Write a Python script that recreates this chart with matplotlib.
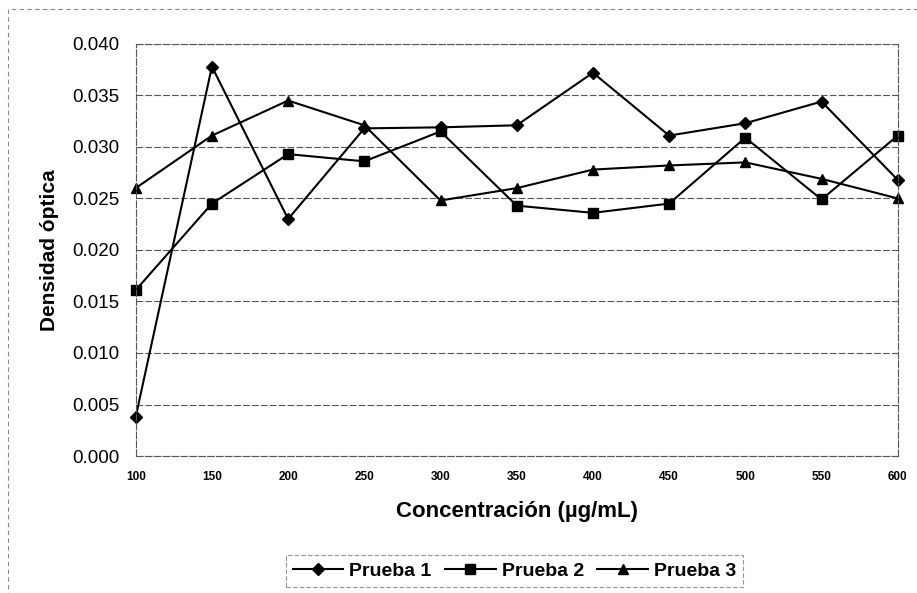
import matplotlib
matplotlib.use('Agg')
import matplotlib.pyplot as plt
from matplotlib.patches import Rectangle

plt.rcParams['font.family'] = ['Liberation Sans', 'DejaVu Sans']

concentracion = [100, 150, 200, 250, 300, 350, 400, 450, 500, 550, 600]
prueba1 = [0.0038, 0.0378, 0.0230, 0.0318, 0.0319, 0.0321, 0.0372, 0.0311, 0.0323, 0.0344, 0.0268]
prueba2 = [0.0161, 0.0245, 0.0293, 0.0286, 0.0315, 0.0243, 0.0236, 0.0245, 0.0309, 0.0249, 0.0311]
prueba3 = [0.0260, 0.0311, 0.0345, 0.0321, 0.0248, 0.0260, 0.0278, 0.0282, 0.0285, 0.0269, 0.0250]
yticks = [0.000, 0.005, 0.010, 0.015, 0.020, 0.025, 0.030, 0.035, 0.040]

fig = plt.figure(figsize=(9.17, 5.93), dpi=100)
ax = fig.add_axes([0.148, 0.231, 0.831, 0.695])

ax.plot(concentracion, prueba1, color='black', lw=1.5, marker='D', ms=6.5, label='Prueba 1')
ax.plot(concentracion, prueba2, color='black', lw=1.5, marker='s', ms=6.5, label='Prueba 2')
ax.plot(concentracion, prueba3, color='black', lw=1.5, marker='^', ms=7.5, label='Prueba 3')

ax.set_xlim(100, 600)
ax.set_ylim(0, 0.040)
ax.set_xticks(concentracion)
ax.set_xticklabels([str(c) for c in concentracion], fontsize=8.5, fontweight='bold')
ax.set_yticks(yticks)
ax.set_yticklabels(['%.3f' % v for v in yticks], fontsize=13.5)
ax.tick_params(length=0, pad=12)
ax.tick_params(axis='x', pad=11)

ax.grid(axis='y', color='#555555', ls=(0, (6, 2)), lw=0.8)
for s in ax.spines.values():
    s.set_color('#555555')
    s.set_linestyle((0, (6, 2)))
    s.set_linewidth(0.8)
for ln in ax.lines:
    ln.set_clip_on(False)

ax.set_ylabel('Densidad óptica', fontsize=15, fontweight='bold', labelpad=9)
ax.set_xlabel('Concentración (µg/mL)', fontsize=16, fontweight='bold', labelpad=13)

leg = fig.legend(loc='center', bbox_to_anchor=(0.561, 0.037), ncol=3,
                 prop={'weight': 'bold', 'size': 14}, frameon=True, fancybox=False,
                 handlelength=2.6, columnspacing=0.7, handletextpad=0.3, borderpad=0.35)
leg.get_frame().set_edgecolor('#777777')
leg.get_frame().set_linestyle((0, (4, 2)))
leg.get_frame().set_linewidth(0.8)

# outer chart area border
fig.patches.append(Rectangle((0.009, -0.01), 1.0, 0.995, transform=fig.transFigure,
                             fill=False, ec='#888888', lw=0.8, ls=(0, (4, 3))))

fig.savefig('out.png', dpi=100)
